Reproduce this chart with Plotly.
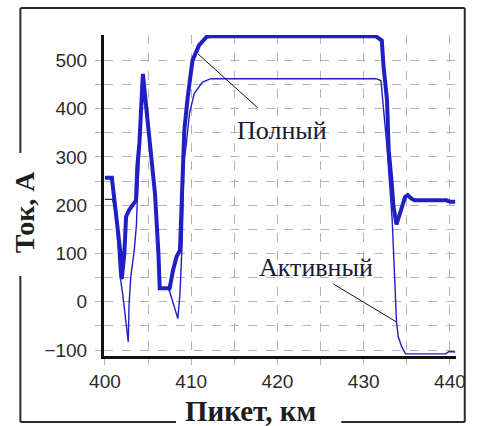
import plotly.graph_objects as go

# Picket positions (km) and current values (A)
km_full = [400.0, 400.8, 401.1, 401.5, 401.8, 401.95, 402.25, 402.45, 402.8, 403.6,
           403.75, 404.0, 404.4, 404.7, 405.1, 405.5, 405.8, 406.2, 406.35, 407.3,
           407.5, 407.9, 408.3, 408.7, 408.85, 409.0, 409.2, 409.6, 410.15, 410.9,
           411.8, 412.3, 431.4, 432.1, 432.3, 432.7, 432.9, 433.25, 433.45, 433.8,
           434.4, 434.8, 435.1, 435.5, 435.9, 439.6, 440.0, 440.6]
amp_full = [257, 257, 210, 148, 100, 47, 100, 176, 190, 210,
            280, 330, 472, 418, 349, 279, 224, 100, 28, 28,
            28, 66, 93, 107, 190, 273, 355, 424, 500, 531,
            549, 550, 550, 541, 487, 418, 314, 245, 197, 160,
            197, 217, 221, 214, 210, 210, 207, 207]

km_active = [400.0, 400.9, 401.3, 401.7, 402.05, 402.45, 402.7, 402.8, 403.0, 403.4,
             403.65, 403.75, 404.0, 404.45, 404.8, 405.15, 405.55, 405.85, 406.25, 406.4,
             407.3, 407.5, 408.45, 408.7, 408.95, 409.15, 409.4, 409.8, 410.35, 411.3,
             412.3, 431.4, 432.0, 432.2, 432.7, 433.1, 433.3, 433.45, 433.6, 433.8,
             434.0, 434.4, 434.85, 439.5, 439.9, 440.6]
amp_active = [212, 212, 176, 60, 17, -38, -83, -3, 52, 107,
              159, 210, 300, 465, 405, 340, 270, 210, 100, 28,
              28, 21, -35, 17, 121, 293, 321, 390, 431, 455,
              462, 462, 458, 418, 320, 220, 170, 107, 24, -41,
              -72, -93, -108, -108, -103, -104]

x_ticks = [400, 410, 420, 430, 440]
x_minor = [405, 415, 425, 435]
y_ticks = [-100, 0, 100, 200, 300, 400, 500]
y_minor = [-50, 50, 150, 250, 350, 450]

line_color = "#1f1fc4"
grid_color = "#b4b4b4"
ink = "#1e1e1e"

W, H = 478, 426
ML, MR, MT, MB = 104, 12, 35, 70
PW, PH = W - ML - MR, H - MT - MB


def px(x):
    return (x - ML) / PW


def py(y):
    return (H - MB - y) / PH


fig = go.Figure()
fig.add_trace(go.Scatter(x=km_active, y=amp_active, mode="lines", name="Активный",
                         line=dict(color=line_color, width=1.4)))
fig.add_trace(go.Scatter(x=km_full, y=amp_full, mode="lines", name="Полный",
                         line=dict(color=line_color, width=4)))

axis_common = dict(
    showgrid=True, gridcolor=grid_color, griddash="dash", gridwidth=1.3,
    zeroline=False, showline=True, linecolor="#111111", linewidth=3,
    ticks="outside", ticklen=6, tickcolor=grid_color, tickwidth=1.3,
    tickfont=dict(family="Liberation Sans, Arial, sans-serif", size=19, color="#2b2b2b"),
)

fig.update_xaxes(range=[399.89, 440.7], tickmode="array", tickvals=x_ticks,
                 minor=dict(tickmode="array", tickvals=x_minor, showgrid=True,
                            gridcolor=grid_color, griddash="dash", gridwidth=1.3,
                            ticks="outside", ticklen=6, tickcolor=grid_color),
                 **axis_common)
fig.update_yaxes(range=[-112.4, 552.5], tickmode="array", tickvals=y_ticks,
                 ticklabelstandoff=4,
                 minor=dict(tickmode="array", tickvals=y_minor, showgrid=True,
                            gridcolor=grid_color, griddash="dash", gridwidth=1.3,
                            ticks="outside", ticklen=6, tickcolor=grid_color),
                 **axis_common)

# Outer frame with gaps for the axis titles
frame = [
    ((18, 8), (475, 8)),
    ((475, 8), (475, 422)),
    ((475, 422), (348, 422)),
    ((178, 422), (18, 422)),
    ((18, 422), (18, 276)),
    ((18, 153), (18, 8)),
]
shapes = []
for (x0, y0), (x1, y1) in frame:
    shapes.append(dict(type="line", xref="paper", yref="paper",
                       x0=px(x0), y0=py(y0), x1=px(x1), y1=py(y1),
                       line=dict(color="#2a2a2a", width=2)))

# Leader lines from the series labels
shapes.append(dict(type="line", xref="x", yref="y", x0=410.8, y0=513, x1=417.7, y1=402,
                   line=dict(color="#111111", width=1)))
shapes.append(dict(type="line", xref="x", yref="y", x0=426.5, y0=36.6, x1=433.8, y1=-42,
                   line=dict(color="#111111", width=1)))

serif = "Liberation Serif, Times New Roman, serif"
annotations = [
    dict(x=420.5, y=355.5, xref="x", yref="y", text="Полный", showarrow=False,
         font=dict(family=serif, size=26, color="#1a1a33")),
    dict(x=424.5, y=71.8, xref="x", yref="y", text="Активный", showarrow=False,
         font=dict(family=serif, size=26, color="#1a1a33")),
    dict(x=px(23), y=py(212), xref="paper", yref="paper", text="<b>Ток, А</b>",
         textangle=-90, showarrow=False, xanchor="center", yanchor="middle",
         font=dict(family=serif, size=28, color=ink)),
    dict(x=px(255), y=py(411), xref="paper", yref="paper", text="<b>Пикет, км</b>",
         showarrow=False, xanchor="center", yanchor="middle",
         font=dict(family=serif, size=29, color=ink)),
]

fig.update_layout(
    width=W, height=H,
    margin=dict(l=ML, r=MR, t=MT, b=MB, pad=0),
    paper_bgcolor="white", plot_bgcolor="white",
    showlegend=False,
    shapes=shapes,
    annotations=annotations,
)

fig.write_html("out.html")
